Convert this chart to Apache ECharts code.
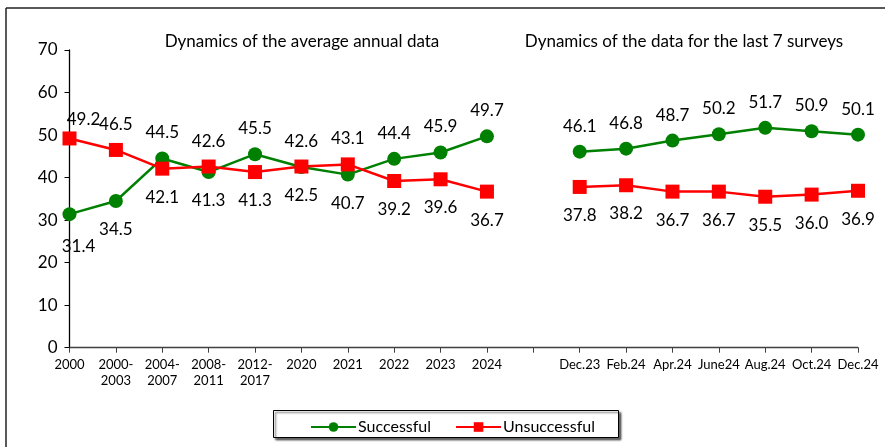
<!DOCTYPE html>
<html><head><meta charset="utf-8">
<script src="https://cdn.jsdelivr.net/npm/echarts@6/dist/echarts.min.js"></script>
<style>html,body{margin:0;padding:0;background:#fff}#c{width:885px;height:447px}</style>
</head><body><div id="c"></div>
<script>
const categories = ['2000','2000-\n2003','2004-\n2007','2008-\n2011','2012-\n2017','2020','2021','2022','2023','2024','',
  'Dec.23','Feb.24','Apr.24','June24','Aug.24','Oct.24','Dec.24'];
const successful = [31.4,34.5,44.5,41.3,45.5,42.5,40.7,44.4,45.9,49.7,null,46.1,46.8,48.7,50.2,51.7,50.9,50.1];
const unsuccessful = [49.2,46.5,42.1,42.6,41.3,42.6,43.1,39.2,39.6,36.7,null,37.8,38.2,36.7,36.7,35.5,36.0,36.9];
const yTicks = [0,10,20,30,40,50,60,70];
const titleLeft = 'Dynamics of the average annual data';
const titleRight = 'Dynamics of the data for the last 7 surveys';

const FONT = 'Lato, "Open Sans", sans-serif';
function build(vals, other) {
  return vals.map((v, i) => {
    if (v == null) return null;
    const o = other[i];
    const top = (o == null || v >= o);
    const lab = { position: top ? 'top' : 'bottom', distance: top ? 10 : 13 };
    if (i === 0) lab.offset = top ? [14, 7] : [9, 4];
    return { value: v, label: lab };
  });
}
const chart = echarts.init(document.getElementById('c'), null, {renderer:'canvas'});
chart.setOption({
  animation: false,
  backgroundColor: '#fff',
  textStyle: { fontFamily: FONT },
  grid: { left: 69.5, right: 27, top: 50, bottom: 99.3, containLabel: false },
  xAxis: {
    type: 'category', data: categories, boundaryGap: false,
    axisLine: { lineStyle: { color: '#404040', width: 1.3 } },
    axisTick: { show: true, length: 5, lineStyle: { color: '#404040' } },
    axisLabel: { color: '#000', fontSize: 13, fontFamily: FONT, lineHeight: 16, margin: 9, interval: 0 }
  },
  yAxis: {
    type: 'value', min: yTicks[0], max: yTicks[yTicks.length-1], interval: 10,
    axisLine: { show: true, lineStyle: { color: '#000', width: 1.3 } },
    axisTick: { show: true, length: 5, lineStyle: { color: '#000' } },
    splitLine: { show: false },
    axisLabel: { color: '#000', fontSize: 17, fontFamily: FONT, margin: 12 }
  },
  legend: {
    data: ['Successful','Unsuccessful'],
    left: 305, top: 414, itemWidth: 45, itemHeight: 12, itemGap: 24,
    textStyle: { fontSize: 16, color: '#000', fontFamily: FONT, padding: [0,0,0,-3] }
  },
  graphic: [
    { type: 'rect', left: 273, top: 410, shape: { width: 345, height: 27 },
      style: { fill: '#fff', stroke: '#000', lineWidth: 1, shadowBlur: 2, shadowOffsetX: 2, shadowOffsetY: 2, shadowColor: 'rgba(0,0,0,0.6)' }, z: -1 },
    { type: 'line', shape: { x1: 6, y1: 8, x2: 885, y2: 8 }, style: { stroke: '#222', lineWidth: 1.5 } },
    { type: 'line', shape: { x1: 6, y1: 8, x2: 6, y2: 447 }, style: { stroke: '#222', lineWidth: 1.5 } },
    { type: 'text', x: 302, y: 42, style: { text: titleLeft, fontSize: 17, fontFamily: FONT, fill: '#000', align: 'center', verticalAlign: 'middle' } },
    { type: 'text', x: 684, y: 42, style: { text: titleRight, fontSize: 17, fontFamily: FONT, fill: '#000', align: 'center', verticalAlign: 'middle' } }
  ],
  series: [
    { name: 'Successful', type: 'line', data: build(successful, unsuccessful),
      symbol: 'circle', symbolSize: 14, connectNulls: false,
      itemStyle: { color: '#008000' }, lineStyle: { color: '#008000', width: 2.5 },
      label: { show: true, fontSize: 17, color: '#000', fontFamily: FONT, formatter: p => p.value.toFixed(1) } },
    { name: 'Unsuccessful', type: 'line', data: build(unsuccessful, successful),
      symbol: 'rect', symbolSize: 14, connectNulls: false,
      itemStyle: { color: '#ff0000' }, lineStyle: { color: '#ff0000', width: 2.5 },
      label: { show: true, fontSize: 17, color: '#000', fontFamily: FONT, formatter: p => p.value.toFixed(1) } }
  ]
});
</script></body></html>
